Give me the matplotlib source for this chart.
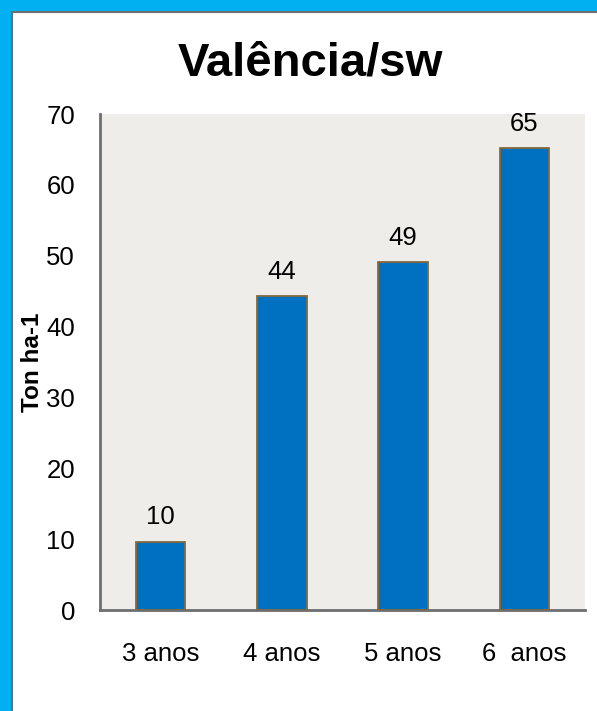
import matplotlib.pyplot as plt
from matplotlib.patches import Rectangle

plt.rcParams['font.family'] = ['Liberation Sans', 'DejaVu Sans']

categorias = ['3 anos', '4 anos', '5 anos', '6  anos']
valores = [9.6, 44.3, 49.1, 65.2]
rotulos = ['10', '44', '49', '65']

W, H = 597, 711
fig = plt.figure(figsize=(W / 100, H / 100), dpi=100, facecolor='#00B0F0')

# white panel with grey line, cyan frame at top / left
fig.patches.append(Rectangle((12 / W, -0.1), 1.2, (H - 12) / H + 0.1,
                             transform=fig.transFigure, facecolor='white',
                             edgecolor='#6E6E6E', linewidth=1.5, zorder=-5))

ax = fig.add_axes([100 / W, 1 - 610 / H, 485 / W, 496 / H])
ax.set_facecolor('#EEEDE9')

x = range(len(categorias))
bars = ax.bar(x, valores, width=0.41, color='#0070C0', edgecolor='#85693A',
              linewidth=1.3, zorder=3)

for b, r in zip(bars, rotulos):
    ax.annotate(r, (b.get_x() + b.get_width() / 2, b.get_height()),
                xytext=(0, 9), textcoords='offset points',
                ha='center', va='bottom', fontsize=18.5)

ax.set_xlim(-0.5, 3.5)
ax.set_ylim(0, 70)
ax.set_yticks(range(0, 71, 10))
ax.set_xticks(list(x))
ax.set_xticklabels(categorias)
ax.tick_params(axis='both', length=0, labelsize=18.5)
ax.tick_params(axis='y', pad=18)
ax.tick_params(axis='x', pad=23)

for s in ['top', 'right']:
    ax.spines[s].set_visible(False)
for s in ['left', 'bottom']:
    ax.spines[s].set_color('#6E6E6E')
    ax.spines[s].set_linewidth(2)

ax.set_ylabel('Ton ha-1', fontsize=17.5, fontweight='bold')
ax.yaxis.set_label_coords(-0.116, 0.5)

fig.text(310 / W, 1 - 64 / H, 'Valência/sw', ha='center', va='center',
         fontsize=34, fontweight='bold')

fig.savefig('out.png', dpi=100, facecolor=fig.get_facecolor())
